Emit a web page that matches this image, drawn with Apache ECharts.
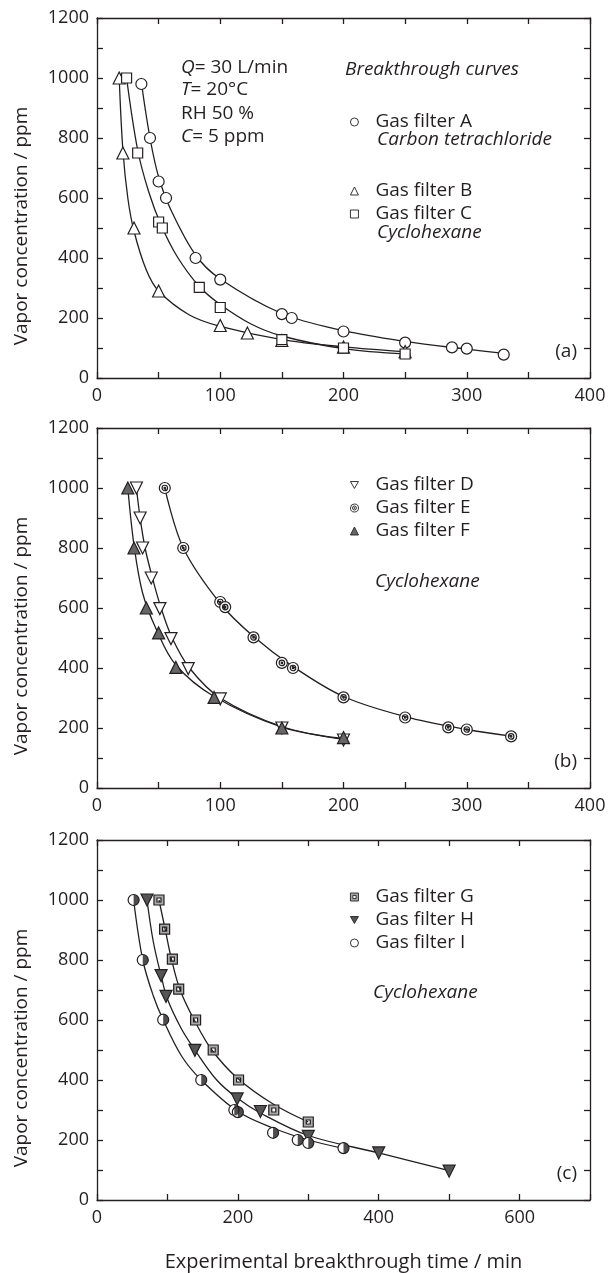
<!DOCTYPE html>
<html>
<head>
<meta charset="utf-8">
<script src="https://cdn.jsdelivr.net/npm/echarts@6/dist/echarts.min.js"></script>
<style>
  html, body { margin: 0; padding: 0; background: #fff; }
  #chart { width: 610px; height: 1273px; }
</style>
</head>
<body>
<div id="chart"></div>
<script>
// Panel (a): carbon tetrachloride (A) and cyclohexane (B, C) - measured points
var aX = [36, 43, 50, 56, 80, 100, 150, 158, 200, 250, 288, 300, 330];
var aY = [980, 800, 655, 600, 400, 328, 213, 200, 155, 118, 102, 98, 78];
var bX = [18, 21, 30, 50, 100, 122, 150, 200, 250];
var bY = [1000, 750, 500, 290, 175, 150, 125, 103, 88];
var cX = [24, 33, 50, 53, 83, 100, 150, 200, 250];
var cY = [1000, 750, 520, 500, 302, 235, 128, 100, 80];

// Panel (b): cyclohexane - measured points
var dX = [32, 35, 37, 44, 51, 60, 74, 100, 150, 200];
var dY = [1000, 900, 800, 700, 598, 498, 398, 297, 200, 160];
var eX = [55, 70, 100, 104, 127, 150, 159, 200, 250, 285, 300, 336];
var eY = [1000, 800, 620, 603, 502, 417, 400, 302, 235, 202, 195, 172];
var fX = [25, 30, 40, 50, 64, 95, 150, 200];
var fY = [1000, 800, 600, 517, 402, 302, 200, 168];

// Panel (c): cyclohexane - measured points
var gX = [88, 96, 107, 116, 140, 165, 201, 251, 300];
var gY = [1000, 903, 803, 703, 600, 500, 400, 300, 260];
var hX = [71, 91, 98, 139, 199, 232, 300, 400, 500];
var hY = [1000, 748, 679, 499, 337, 295, 212, 157, 96];
var iX = [52, 65, 94, 148, 195, 200, 250, 285, 300, 350];
var iY = [1000, 800, 601, 400, 300, 293, 224, 200, 190, 173];

// Fitted curves
var aFitX = [36, 43, 50, 60, 80, 100, 150, 200, 250, 300, 330];
var aFitY = [985, 800, 670, 560, 410, 330, 215, 158, 122, 96, 82];
var bFitX = [18, 21, 25, 30, 40, 50, 75, 100, 150, 200, 250];
var bFitY = [1000, 760, 600, 490, 360, 290, 210, 172, 128, 104, 88];
var cFitX = [24, 33, 42, 52, 65, 83, 100, 125, 150, 200, 250];
var cFitY = [1000, 760, 620, 510, 405, 305, 245, 180, 140, 98, 80];
var dFitX = [32, 35, 39, 45, 52, 61, 75, 100, 150, 200];
var dFitY = [1000, 900, 800, 700, 600, 500, 400, 300, 205, 162];
var eFitX = [55, 70, 100, 127, 159, 200, 250, 300, 336];
var eFitY = [1000, 800, 615, 505, 405, 305, 238, 195, 173];
var fFitX = [25, 30, 37, 48, 64, 95, 150, 200];
var fFitY = [1000, 810, 650, 530, 410, 305, 203, 165];
var gFitX = [88, 97, 106, 118, 138, 163, 200, 250, 300];
var gFitY = [1000, 900, 800, 700, 600, 500, 405, 320, 260];
var hFitX = [71, 80, 91, 100, 120, 139, 170, 199, 232, 300, 400, 500];
var hFitY = [1000, 860, 748, 670, 570, 500, 400, 340, 290, 215, 157, 98];
var iFitX = [52, 65, 80, 94, 120, 148, 200, 250, 300, 350];
var iFitY = [1000, 800, 680, 600, 480, 400, 295, 240, 200, 172];

var yTicks = [0, 200, 400, 600, 800, 1000, 1200];
var panelLabels = ['(a)', '(b)', '(c)'];

var ink = '#231f20';
var font = "'Open Sans', sans-serif";

function pairs(xs, ys) {
  var out = [];
  for (var k = 0; k < xs.length; k++) out.push([xs[k], ys[k]]);
  return out;
}

// grids: left 97, width 493, height 360
var grids = [
  { left: 97, top: 18, width: 493, height: 360 },
  { left: 97, top: 428, width: 493, height: 360 },
  { left: 97, top: 840, width: 493, height: 360 }
];
var xMaxes = [400, 400, 700];
var xSteps = [100, 100, 200];

var xAxes = [], yAxes = [];
grids.forEach(function (g, gi) {
  var lineSt = { color: ink, width: 1.3 };
  ['bottom', 'top'].forEach(function (pos) {
    xAxes.push({
      gridIndex: gi, type: 'value', position: pos,
      min: 0, max: xMaxes[gi], interval: xSteps[gi],
      axisLine: { show: true, onZero: false, lineStyle: lineSt },
      axisTick: { show: true, inside: true, length: 6, lineStyle: lineSt },
      minorTick: { show: true, splitNumber: 2, length: 6, lineStyle: lineSt },
      splitLine: { show: false }, minorSplitLine: { show: false },
      axisLabel: {
        show: pos === 'bottom', fontSize: 18, color: ink, fontFamily: font, margin: 9,
        showMinLabel: true, showMaxLabel: gi < 2,
        formatter: function (v) { return (v % xSteps[gi] === 0) ? String(v) : ''; }
      },
      name: (pos === 'bottom' && gi === 2) ? 'Experimental breakthrough time / min' : '',
      nameLocation: 'middle', nameGap: 52,
      nameTextStyle: { fontSize: 20, color: ink, fontFamily: font }
    });
  });
  ['left', 'right'].forEach(function (pos) {
    yAxes.push({
      gridIndex: gi, type: 'value', position: pos,
      min: yTicks[0], max: yTicks[yTicks.length - 1], interval: yTicks[1] - yTicks[0],
      axisLine: { show: true, onZero: false, lineStyle: lineSt },
      axisTick: { show: true, inside: true, length: 6, lineStyle: lineSt },
      minorTick: { show: true, splitNumber: 2, length: 6, lineStyle: lineSt },
      splitLine: { show: false }, minorSplitLine: { show: false },
      axisLabel: {
        show: pos === 'left', fontSize: 18, color: ink, fontFamily: font, margin: 8,
        showMinLabel: true, showMaxLabel: true,
        formatter: function (v) { return String(v); }
      },
      name: pos === 'left' ? 'Vapor concentration / ppm' : '',
      nameLocation: 'middle', nameGap: 66,
      // title sits a little below the panel centre in the original
      nameTextStyle: { fontSize: 19, color: ink, fontFamily: font, padding: [0, 56, 0, 0] }
    });
  });
});

// marker shapes
var downTri = 'path://M0,0 L12,0 L6,10.4 Z';
var ringDot = 'path://M6,0 A6,6 0 1 1 5.99,0 Z M6,3 A3,3 0 1 0 6.01,3 Z M6,5.2 A0.8,0.8 0 1 1 5.99,5.2 Z';
var dblSquare = 'path://M0,0 L10,0 L10,10 L0,10 Z M3,3 L3,7 L7,7 L7,3 Z';
var halfDisc = 'path://M0,0 A5,5 0 0 1 0,10 Z';

var series = [];
function addFilter(name, xs, ys, fitX, fitY, gi, symbol, size, fill) {
  series.push({
    name: 'fit ' + name, type: 'line', xAxisIndex: gi * 2, yAxisIndex: gi * 2,
    data: pairs(fitX, fitY), smooth: 0.35, symbol: 'none', silent: true,
    lineStyle: { color: ink, width: 1.3 }, z: 2
  });
  series.push({
    name: name, type: 'scatter', xAxisIndex: gi * 2, yAxisIndex: gi * 2,
    data: pairs(xs, ys), symbol: symbol, symbolSize: size, silent: true,
    itemStyle: { color: fill, borderColor: ink, borderWidth: 1.2, opacity: 1 }, z: 3
  });
}

addFilter('Gas filter A', aX, aY, aFitX, aFitY, 0, 'circle', 11, '#fff');
addFilter('Gas filter B', bX, bY, bFitX, bFitY, 0, 'triangle', 12, '#fff');
addFilter('Gas filter C', cX, cY, cFitX, cFitY, 0, 'rect', 10, '#fff');
addFilter('Gas filter D', dX, dY, dFitX, dFitY, 1, downTri, 12, '#fff');
addFilter('Gas filter E', eX, eY, eFitX, eFitY, 1, ringDot, 11, '#fff');
addFilter('Gas filter F', fX, fY, fFitX, fFitY, 1, 'triangle', 12, '#666');
addFilter('Gas filter G', gX, gY, gFitX, gFitY, 2, dblSquare, 10, '#aaa');
addFilter('Gas filter H', hX, hY, hFitX, hFitY, 2, downTri, 12, '#555');
addFilter('Gas filter I', iX, iY, iFitX, iFitY, 2, 'circle', 11, '#fff');
// right half of the I marker is filled
series.push({
  name: 'Gas filter I half', type: 'scatter', xAxisIndex: 4, yAxisIndex: 4,
  data: pairs(iX, iY), symbol: halfDisc, symbolSize: [5.5, 11], symbolOffset: [2.75, 0],
  silent: true, itemStyle: { color: ink, borderWidth: 0 }, z: 4
});

function legendBlock(names, top) {
  return {
    data: names, orient: 'vertical', left: 345, top: top,
    itemWidth: 8, itemHeight: 8, itemGap: 3, selectedMode: false,
    itemStyle: { borderWidth: 0.9 },
    textStyle: { fontSize: 19, color: ink, fontFamily: font, lineHeight: 20, padding: [0, 0, 0, 12] }
  };
}

function txt(text, x, y, italic, align) {
  return {
    type: 'text', x: x, y: y, silent: true,
    style: {
      text: text, fill: ink, align: align || 'left', verticalAlign: 'middle',
      font: (italic ? 'italic ' : '') + '19px ' + font
    }
  };
}

function richTxt(text, x, y) {
  return {
    type: 'text', x: x, y: y, silent: true,
    style: {
      text: text, fill: ink, verticalAlign: 'middle', font: '19px ' + font,
      rich: { i: { fontStyle: 'italic', fontSize: 19, fontFamily: font, fill: ink } }
    }
  };
}

var graphics = [
  richTxt('{i|Q}= 30 L/min', 181, 68),
  richTxt('{i|T}= 20\u00b0C', 181, 90),
  richTxt('RH 50 %', 181, 114),
  richTxt('{i|C}= 5 ppm', 181, 137),
  txt('Breakthrough curves', 345, 70, true),
  txt('Carbon tetrachloride', 377, 140, true),
  txt('Cyclohexane', 377, 233, true),
  txt('Cyclohexane', 375, 582, true),
  txt('Cyclohexane', 373, 993, true)
];
panelLabels.forEach(function (lab, gi) {
  graphics.push(txt(lab, 577, grids[gi].top + grids[gi].height - 26, false, 'right'));
});

var chart = echarts.init(document.getElementById('chart'), null, { renderer: 'canvas' });
chart.setOption({
  animation: false,
  backgroundColor: '#fff',
  grid: grids,
  xAxis: xAxes,
  yAxis: yAxes,
  legend: [
    legendBlock(['Gas filter A'], 107),
    legendBlock(['Gas filter B', 'Gas filter C'], 176),
    legendBlock(['Gas filter D', 'Gas filter E', 'Gas filter F'], 470),
    legendBlock(['Gas filter G', 'Gas filter H', 'Gas filter I'], 882)
  ],
  series: series,
  graphic: graphics
});
</script>
</body>
</html>
